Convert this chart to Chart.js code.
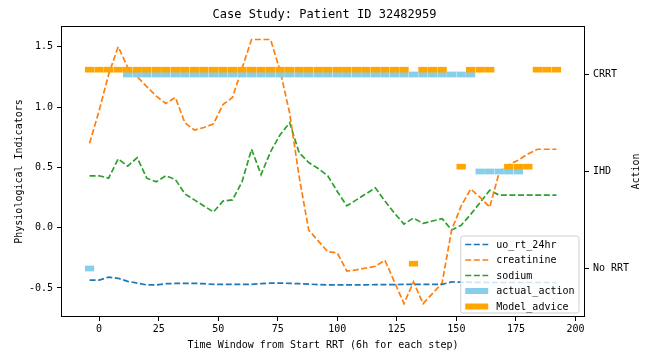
<!DOCTYPE html>
<html>
<head>
<meta charset="utf-8">
<script src="https://cdn.jsdelivr.net/npm/chart.js@4.4.0/dist/chart.umd.min.js"></script>
<style>
  html, body { margin: 0; padding: 0; background: #fff; }
  canvas { display: block; }
</style>
</head>
<body>
<canvas id="caseChart" width="649" height="354"></canvas>
<script>
// time steps (6h each)
const steps = [-4, 0, 4, 8, 12, 16, 20, 24, 28, 32, 36, 40, 44, 48, 52, 56, 60, 64, 68, 72,
  76, 80, 84, 88, 92, 96, 100, 104, 108, 112, 116, 120, 124, 128, 132, 136, 140, 144, 148, 152,
  156, 160, 164, 168, 172, 176, 180, 184, 188, 192];

const uoRt24hr = [-0.435, -0.435, -0.41, -0.42, -0.445, -0.46, -0.475, -0.475, -0.465, -0.463,
  -0.462, -0.462, -0.465, -0.47, -0.47, -0.47, -0.47, -0.47, -0.465, -0.46,
  -0.46, -0.462, -0.465, -0.468, -0.472, -0.475, -0.475, -0.475, -0.475, -0.474,
  -0.473, -0.472, -0.472, -0.471, -0.47, -0.47, -0.47, -0.47, -0.45, -0.452,
  -0.453, -0.454, -0.455, -0.455, -0.455, -0.455, -0.455, -0.455, -0.455, -0.455];

const creatinine = [0.70, 0.97, 1.27, 1.50, 1.33, 1.25, 1.17, 1.09, 1.03, 1.08,
  0.87, 0.81, 0.83, 0.86, 1.02, 1.08, 1.32, 1.56, 1.56, 1.56,
  1.30, 0.95, 0.42, -0.02, -0.11, -0.20, -0.21, -0.36, -0.35, -0.335,
  -0.32, -0.27, -0.45, -0.63, -0.45, -0.63, -0.545, -0.46, -0.02, 0.18,
  0.32, 0.25, 0.17, 0.46, 0.52, 0.56, 0.61, 0.65, 0.65, 0.65];

const sodium = [0.43, 0.43, 0.41, 0.57, 0.51, 0.58, 0.41, 0.38, 0.43, 0.40,
  0.28, 0.23, 0.18, 0.13, 0.22, 0.23, 0.38, 0.65, 0.44, 0.63,
  0.77, 0.87, 0.62, 0.54, 0.49, 0.43, 0.30, 0.18, 0.23, 0.28,
  0.33, 0.22, 0.12, 0.03, 0.08, 0.035, 0.055, 0.075, -0.02, 0.02,
  0.11, 0.21, 0.31, 0.27, 0.27, 0.27, 0.27, 0.27, 0.27, 0.27];

// 0 = No RRT, 1 = IHD, 2 = CRRT, null = nothing shown
const actualAction = [0, null, null, null, 2, 2, 2, 2, 2, 2,
  2, 2, 2, 2, 2, 2, 2, 2, 2, 2,
  2, 2, 2, 2, 2, 2, 2, 2, 2, 2,
  2, 2, 2, 2, 2, 2, 2, 2, 2, 2,
  2, 1, 1, 1, 1, 1, null, null, null, null];

const modelAdvice = [2, 2, 2, 2, 2, 2, 2, 2, 2, 2,
  2, 2, 2, 2, 2, 2, 2, 2, 2, 2,
  2, 2, 2, 2, 2, 2, 2, 2, 2, 2,
  2, 2, 2, 2, 0, 2, 2, 2, null, 1,
  2, 2, 2, null, 1, 1, 1, 2, 2, 2];

const actionNames = ['No RRT', 'IHD', 'CRRT'];
const leftTicks = [-0.5, 0.0, 0.5, 1.0, 1.5];
const actionTicks = [0, 1, 2];
const bottomTicks = [0, 25, 50, 75, 100, 125, 150, 175, 200];

const X_MIN = -16, X_MAX = 204;
const Y_MIN = -0.741, Y_MAX = 1.672;
const FONT = "'DejaVu Sans Mono', monospace";

Chart.defaults.font.family = FONT;
Chart.defaults.font.size = 10;
Chart.defaults.color = '#000';

function lineSet(label, values, color) {
  return {
    type: 'line',
    label: label,
    yAxisID: 'y',
    order: 3,
    data: steps.map((x, i) => ({ x: x, y: values[i] })),
    borderColor: color,
    backgroundColor: color,
    borderWidth: 1.7,
    borderDash: [6, 2.6],
    pointRadius: 0,
    tension: 0,
    fill: false
  };
}

function actionSet(label, values, color, lift, order) {
  const pts = [];
  steps.forEach((x, i) => {
    if (values[i] !== null) pts.push({ x: x, y: [values[i] + lift - 0.03, values[i] + lift + 0.03] });
  });
  return {
    type: 'bar',
    label: label,
    yAxisID: 'y1',
    order: order,
    data: pts,
    backgroundColor: color,
    borderColor: 'rgba(255,255,255,0.35)',
    borderWidth: { left: 0.4, right: 0.4, top: 0, bottom: 0 },
    borderSkipped: false,
    grouped: false,
    barPercentage: 1,
    categoryPercentage: 1
  };
}

// frame, right label and legend box
const extras = {
  id: 'extras',
  afterDraw(chart) {
    const ctx = chart.ctx;
    const a = chart.chartArea;
    ctx.save();
    ctx.strokeStyle = '#000';
    ctx.lineWidth = 1;
    ctx.strokeRect(Math.round(a.left) + 0.5, Math.round(a.top) + 0.5,
      Math.round(a.right - a.left) - 1, Math.round(a.bottom - a.top) - 1);

    // right axis title, reads bottom to top like the left one
    ctx.font = '10px ' + FONT;
    ctx.fillStyle = '#000';
    ctx.textAlign = 'center';
    ctx.textBaseline = 'middle';
    ctx.translate(636, (a.top + a.bottom) / 2);
    ctx.rotate(-Math.PI / 2);
    ctx.fillText('Action', 0, 0);
    ctx.restore();

    // legend
    ctx.save();
    ctx.font = '10px ' + FONT;
    const items = chart.data.datasets;
    const textW = Math.max(...items.map(d => ctx.measureText(d.label).width));
    const pad = 4.5, handleW = 23, gap = 8, rowH = 15.5;
    const boxW = pad + handleW + gap + textW + pad;
    const boxH = 77;
    const right = a.right - 6, bottom = a.bottom - 4;
    const left = right - boxW, top = bottom - boxH;
    const r = 2.5;
    ctx.beginPath();
    ctx.moveTo(left + r, top);
    ctx.lineTo(right - r, top);
    ctx.quadraticCurveTo(right, top, right, top + r);
    ctx.lineTo(right, bottom - r);
    ctx.quadraticCurveTo(right, bottom, right - r, bottom);
    ctx.lineTo(left + r, bottom);
    ctx.quadraticCurveTo(left, bottom, left, bottom - r);
    ctx.lineTo(left, top + r);
    ctx.quadraticCurveTo(left, top, left + r, top);
    ctx.closePath();
    ctx.fillStyle = 'rgba(255,255,255,0.8)';
    ctx.fill();
    ctx.strokeStyle = '#d0d0d0';
    ctx.lineWidth = 1;
    ctx.stroke();

    items.forEach((d, k) => {
      const cy = top + 8.5 + k * rowH;
      const hx = left + pad;
      if (d.type === 'line') {
        ctx.strokeStyle = d.borderColor;
        ctx.lineWidth = d.borderWidth;
        ctx.setLineDash(d.borderDash);
        ctx.beginPath();
        ctx.moveTo(hx, cy);
        ctx.lineTo(hx + handleW, cy);
        ctx.stroke();
        ctx.setLineDash([]);
      } else {
        ctx.fillStyle = d.backgroundColor;
        ctx.fillRect(hx, cy - 3, handleW, 6);
      }
      ctx.fillStyle = '#000';
      ctx.textAlign = 'left';
      ctx.textBaseline = 'middle';
      ctx.fillText(d.label, hx + handleW + gap, cy + 0.5);
    });
    ctx.restore();
  }
};

new Chart(document.getElementById('caseChart'), {
  type: 'line',
  data: {
    datasets: [
      lineSet('uo_rt_24hr', uoRt24hr, '#1f77b4'),
      lineSet('creatinine', creatinine, '#ff7f0e'),
      lineSet('sodium', sodium, '#2ca02c'),
      actionSet('actual_action', actualAction, '#87ceeb', 0, 2),
      actionSet('Model_advice', modelAdvice, '#ffa500', 0.05, 1)
    ]
  },
  options: {
    responsive: false,
    animation: false,
    devicePixelRatio: 1,
    events: [],
    layout: { padding: 0 },
    plugins: {
      legend: { display: false },
      tooltip: { enabled: false },
      title: {
        display: true,
        text: 'Case Study: Patient ID 32482959',
        font: { size: 12, weight: 'normal' },
        color: '#000',
        padding: { top: 8, bottom: 3.6 }
      }
    },
    scales: {
      x: {
        type: 'linear',
        min: X_MIN,
        max: X_MAX,
        offset: false,
        afterBuildTicks: s => { s.ticks = bottomTicks.map(v => ({ value: v })); },
        afterFit: s => { s.height = 37; },
        grid: { drawOnChartArea: false, drawTicks: true, tickLength: 4, color: '#000', offset: false },
        border: { display: false },
        ticks: { padding: 2, maxRotation: 0, autoSkip: false, callback: v => String(v) },
        title: { display: true, text: 'Time Window from Start RRT (6h for each step)', padding: { top: 0, bottom: 3 } }
      },
      y: {
        type: 'linear',
        position: 'left',
        min: Y_MIN,
        max: Y_MAX,
        afterBuildTicks: s => { s.ticks = leftTicks.map(v => ({ value: v })); },
        afterFit: s => { s.width = 61; },
        grid: { drawOnChartArea: false, drawTicks: true, tickLength: 4, color: '#000' },
        border: { display: false },
        ticks: { padding: 4, callback: v => v.toFixed(1) },
        title: { display: true, text: 'Physiological Indicators', padding: { top: 13, bottom: 0 } }
      },
      y1: {
        type: 'linear',
        position: 'right',
        min: -0.5,
        max: 2.5,
        afterBuildTicks: s => { s.ticks = actionTicks.map(v => ({ value: v })); },
        afterFit: s => { s.width = 64; },
        grid: { drawOnChartArea: false, drawTicks: true, tickLength: 4, color: '#000' },
        border: { display: false },
        ticks: { padding: 4, callback: v => actionNames[v] }
      }
    }
  },
  plugins: [extras]
});
</script>
</body>
</html>
